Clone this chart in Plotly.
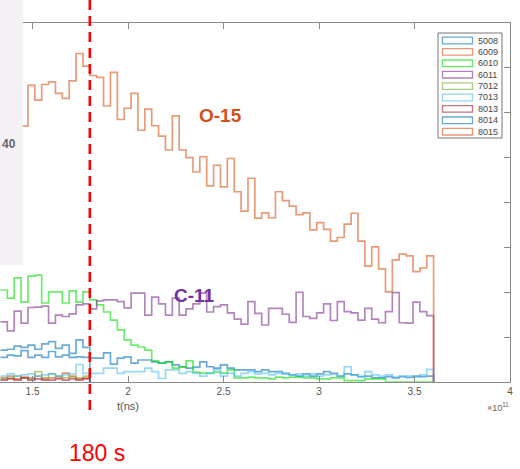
import plotly.graph_objects as go

# Histogram binning: 100 bins of 3.6e9 ns; the visible window starts at bin 37
BIN_WIDTH_NS = 3.6e9
FIRST_BIN = 37

SERIES_NAMES = ["5008", "6009", "6010", "6011", "7012", "7013", "8013", "8014", "8015"]
SERIES_COLORS = ["#0072BD", "#D95319", "#00E000", "#7E2F8E", "#77AC30",
                 "#4DBEEE", "#A2142F", "#0072BD", "#D95319"]

# counts per bin, starting at FIRST_BIN
counts_5008 = [5.5, 6.0, 5.8, 7.0, 5.5, 6.0, 5.5, 6.8, 5.6, 6.0, 5.5, 5.6, 5.5,
               5.3, 5.3, 6.5, 4.0, 5.3, 5.6, 4.2, 4.9, 4.9, 4.5, 4.2, 4.5,
               3.8, 3.4, 3.1, 3.3, 4.5, 3.4, 3.1, 3.8, 3.1, 2.7, 2.7, 2.7,
               2.3, 2.7, 2.3, 2.3, 1.9, 1.6, 1.3, 1.8, 1.3, 1.8, 2.3, 1.9, 1.3,
               1.8, 1.6, 1.2, 1.3, 0.9, 0.9, 1.2, 0.9, 1.2, 1.0, 1.3, 1.2, 1.3]
counts_6009 = [0.9, 1.3, 0.7, 1.1, 0.9, 1.3, 0.7, 0.9, 1.1, 2.0, 1.3, 0.7, 0.9]
counts_6010 = [20.5, 18.7, 23.2, 17.8, 23.6, 23.8, 17.6, 20.1, 20.1, 17.6, 20.3, 17.8, 20.1,
               18.3, 17.2, 15.6, 13.8, 11.6, 9.4, 8.2, 7.8, 7.1, 4.7, 4.2, 4.5,
               3.1, 3.3, 4.7, 2.2, 2.0, 2.0, 2.2, 2.0, 2.7, 0.9, 0.9, 1.1,
               0.9, 0.9, 0.7, 1.1, 0.9, 1.1, 1.1, 0.9, 0.9, 0.7, 0.7, 0.9, 0.9,
               0.3, 0.3, 0.3, 0.7, 0.7, 0.7, 0, 0, 0, 0, 0, 0, 0]
counts_6011 = [13.4, 11.4, 15.8, 13.1, 16.6, 16.7, 16.9, 13.1, 14.9, 14.6, 15.2, 17.2, 17.4,
               16.3, 18.1, 18.3, 18.3, 17.9, 16.5, 19.8, 19.8, 14.9, 18.9, 17.4, 14.9,
               18.7, 14.9, 16.3, 17.4, 19.8, 15.6, 16.8, 17.2, 15.4, 14.0, 12.9, 17.9,
               15.3, 12.7, 16.4, 16.4, 15.1, 13.3, 20.0, 14.6, 14.2, 15.4, 17.4, 13.7, 17.9,
               15.7, 15.4, 13.8, 16.4, 14.0, 13.2, 15.7, 19.9, 13.2, 13.1, 17.8, 15.7, 14.8]
counts_7012 = [0.7, 0.9, 1.3, 0.9, 0.7, 2.3, 0.9, 1.8, 1.3, 0.9, 1.1, 0.9, 1.3]
counts_7013 = [1.3, 1.8, 1.3, 1.6, 1.8, 1.3, 1.6, 1.8, 1.3, 1.6, 1.8, 3.9, 1.9,
               1.9, 1.9, 3.1, 3.1, 1.9, 2.3, 2.3, 2.3, 3.1, 2.3, 0.8, 2.7,
               2.7, 1.9, 2.3, 1.9, 1.3, 1.9, 2.7, 1.3, 1.9, 1.3, 1.9, 2.3,
               1.8, 1.9, 1.6, 1.9, 1.8, 1.6, 1.8, 1.3, 1.8, 1.3, 1.6, 1.8, 1.3,
               3.4, 1.6, 1.2, 2.3, 1.6, 1.3, 1.6, 1.1, 1.3, 1.3, 1.1, 1.6, 2.8]
counts_8013 = [0.4, 0.7, 0.4, 0.9, 0.4, 0.7, 0.4, 0.4, 0.7, 0.4, 0.7, 0.4, 0.7]
counts_8014 = [7.1, 7.3, 8.0, 7.7, 8.2, 7.3, 8.5, 9.0, 7.5, 8.2, 6.4, 9.4, 7.7]
counts_8015 = [57.0, 57.0, 57.0, 57.0, 66.1, 62.8, 66.3, 66.9, 64.3, 63.2, 67.1, 73.2, 70.4,
               68.3, 67.9, 61.5, 69.0, 58.5, 61.0, 64.3, 56.1, 60.8, 57.1, 54.8, 51.7,
               59.3, 51.7, 50.0, 46.8, 50.2, 43.7, 48.3, 43.5, 49.8, 42.4, 38.1, 45.4,
               36.5, 37.7, 36.6, 42.4, 40.4, 39.2, 37.3, 37.7, 33.9, 35.5, 34.0, 31.4, 32.2,
               35.2, 37.6, 31.4, 25.8, 30.1, 25.2, 20.1, 27.2, 28.5, 28.1, 24.6, 25.4, 28.1]

ALL_COUNTS = [counts_5008, counts_6009, counts_6010, counts_6011, counts_7012,
              counts_7013, counts_8013, counts_8014, counts_8015]

X_TICKS = [1.5e11, 2e11, 2.5e11, 3e11, 3.5e11, 4e11]
X_TICK_TEXT = ["1.5", "2", "2.5", "3", "3.5", "4"]
X_RANGE = [1.3297e11, 4e11]
Y_RANGE = [0, 80]
MARK_TIME_NS = 1.8e11

W, H = 520, 469
ML, MR, MT, MB = 0, 10, 23, 87
PW, PH = W - ML - MR, H - MT - MB


def px_x(px):
    return (px - ML) / PW


def px_y(py):
    return (H - MB - py) / PH


def stairs(values):
    xs, ys = [], []
    for i, v in enumerate(values):
        xs.append((FIRST_BIN + i) * BIN_WIDTH_NS)
        ys.append(v)
    xs.append((FIRST_BIN + len(values)) * BIN_WIDTH_NS)
    ys.append(0)
    return xs, ys


fig = go.Figure()
for name, color, vals in zip(SERIES_NAMES, SERIES_COLORS, ALL_COUNTS):
    xs, ys = stairs(vals)
    fig.add_trace(go.Scatter(
        x=xs, y=ys, mode="lines", name=name, line_shape="hv",
        line=dict(color=color, width=1.7), opacity=0.58,
        showlegend=False, hoverinfo="skip",
    ))

axis_col = "#8a8a8a"
fig.update_xaxes(
    range=X_RANGE, tickvals=X_TICKS, ticktext=X_TICK_TEXT,
    showline=True, linecolor=axis_col, linewidth=1, mirror="ticks",
    ticks="inside", ticklen=6, tickcolor=axis_col, showgrid=False, zeroline=False,
    tickfont=dict(family="Liberation Sans", size=10, color="#555"),
)
fig.update_yaxes(
    range=Y_RANGE, dtick=10, side="right",
    showline=True, linecolor=axis_col, linewidth=1,
    ticks="inside", ticklen=6, tickcolor=axis_col, showticklabels=False,
    showgrid=False, zeroline=False,
)

shapes = []
# time marker at 180 s
shapes.append(dict(type="line", xref="x", yref="paper",
                   x0=MARK_TIME_NS, x1=MARK_TIME_NS, y0=px_y(0), y1=px_y(414),
                   line=dict(color="#FF0000", width=2.6, dash="10px,6px"), layer="above"))
# light side panel carrying a value label
shapes.append(dict(type="rect", xref="paper", yref="paper",
                   x0=px_x(-2), x1=px_x(22.7), y0=px_y(265), y1=px_y(-2),
                   fillcolor="#F4F1F5", line=dict(width=0), layer="above"))

# legend box
shapes.append(dict(type="rect", xref="paper", yref="paper",
                   x0=px_x(438), x1=px_x(502), y0=px_y(138), y1=px_y(33),
                   fillcolor="white", line=dict(color="#777", width=1), layer="above"))

annotations = []
for i, (name, color) in enumerate(zip(SERIES_NAMES, SERIES_COLORS)):
    cy = 40.5 + i * 11.4
    shapes.append(dict(type="rect", xref="paper", yref="paper",
                       x0=px_x(442.5), x1=px_x(472.5), y0=px_y(cy + 3.3), y1=px_y(cy - 3.3),
                       fillcolor="rgba(0,0,0,0)", opacity=0.6,
                       line=dict(color=color, width=1.3), layer="above"))
    annotations.append(dict(xref="paper", yref="paper", x=px_x(475.5), y=px_y(cy),
                            text=name, showarrow=False, xanchor="left", yanchor="middle",
                            font=dict(family="Liberation Sans", size=9, color="#444")))

annotations += [
    dict(xref="paper", yref="paper", x=px_x(128), y=px_y(406), text="t(ns)",
         showarrow=False, xanchor="center", yanchor="middle",
         font=dict(family="Liberation Sans", size=11, color="#555")),
    dict(xref="paper", yref="paper", x=px_x(511), y=px_y(407),
         text="×10<sup>11</sup>", showarrow=False, xanchor="right", yanchor="middle",
         font=dict(family="Liberation Sans", size=9, color="#666")),
    dict(xref="paper", yref="paper", x=px_x(220.5), y=px_y(116), text="<b>O-15</b>",
         showarrow=False, xanchor="center", yanchor="middle",
         font=dict(family="Liberation Sans", size=19, color="#D4501A")),
    dict(xref="paper", yref="paper", x=px_x(194), y=px_y(295.5), text="<b>C-11</b>",
         showarrow=False, xanchor="center", yanchor="middle",
         font=dict(family="Liberation Sans", size=19, color="#7030A0")),
    dict(xref="paper", yref="paper", x=px_x(97), y=px_y(453), text="180 s",
         showarrow=False, xanchor="center", yanchor="middle",
         font=dict(family="Liberation Sans", size=23, color="#FF0000")),
    dict(xref="paper", yref="paper", x=px_x(0), y=px_y(143.5), text="<b>40</b>",
         showarrow=False, xanchor="left", yanchor="middle",
         font=dict(family="Liberation Sans", size=12, color="#666")),
]

fig.update_layout(
    width=W, height=H, margin=dict(l=ML, r=MR, t=MT, b=MB),
    paper_bgcolor="white", plot_bgcolor="white",
    shapes=shapes, annotations=annotations, showlegend=False,
)

fig.write_html("out.html")
